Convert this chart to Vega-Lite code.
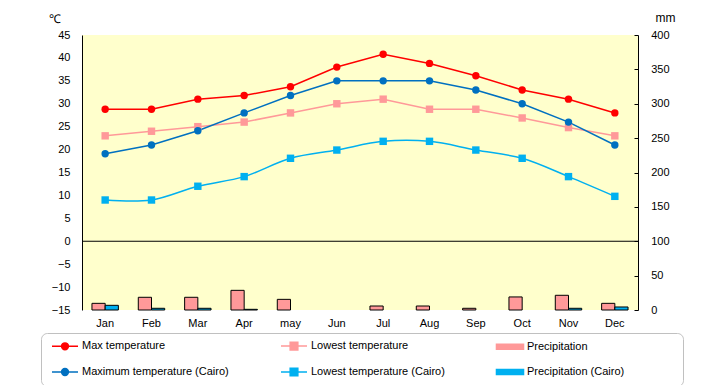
{
  "$schema": "https://vega.github.io/schema/vega-lite/v6.json",
  "width": 556,
  "height": 275,
  "autosize": {"type": "none"},
  "padding": {"left": 82, "top": 35, "right": 82, "bottom": 75},
  "background": "white",
  "config": {
    "view": {"fill": "#FFFFCC", "stroke": null},
    "font": "Liberation Sans",
    "axis": {"labelFont": "Liberation Sans", "labelFontSize": 11, "labelColor": "black", "grid": false, "titleFont": "Liberation Sans", "titleColor": "black", "titleFontWeight": "normal"}
  },
  "datasets": {
    "temp": [
      {"month": "Jan", "series": "Max temperature", "value": 28.8},
      {"month": "Feb", "series": "Max temperature", "value": 28.8},
      {"month": "Mar", "series": "Max temperature", "value": 31.0},
      {"month": "Apr", "series": "Max temperature", "value": 31.8},
      {"month": "may", "series": "Max temperature", "value": 33.7},
      {"month": "Jun", "series": "Max temperature", "value": 38.0},
      {"month": "Jul", "series": "Max temperature", "value": 40.8},
      {"month": "Aug", "series": "Max temperature", "value": 38.8},
      {"month": "Sep", "series": "Max temperature", "value": 36.1},
      {"month": "Oct", "series": "Max temperature", "value": 33.0},
      {"month": "Nov", "series": "Max temperature", "value": 31.0},
      {"month": "Dec", "series": "Max temperature", "value": 28.0},
      {"month": "Jan", "series": "Lowest temperature", "value": 23.0},
      {"month": "Feb", "series": "Lowest temperature", "value": 24.0},
      {"month": "Mar", "series": "Lowest temperature", "value": 25.0},
      {"month": "Apr", "series": "Lowest temperature", "value": 26.0},
      {"month": "may", "series": "Lowest temperature", "value": 28.0},
      {"month": "Jun", "series": "Lowest temperature", "value": 30.0},
      {"month": "Jul", "series": "Lowest temperature", "value": 31.0},
      {"month": "Aug", "series": "Lowest temperature", "value": 28.8},
      {"month": "Sep", "series": "Lowest temperature", "value": 28.8},
      {"month": "Oct", "series": "Lowest temperature", "value": 26.9},
      {"month": "Nov", "series": "Lowest temperature", "value": 24.8},
      {"month": "Dec", "series": "Lowest temperature", "value": 23.0},
      {"month": "Jan", "series": "Maximum temperature (Cairo)", "value": 19.1},
      {"month": "Feb", "series": "Maximum temperature (Cairo)", "value": 21.0},
      {"month": "Mar", "series": "Maximum temperature (Cairo)", "value": 24.1},
      {"month": "Apr", "series": "Maximum temperature (Cairo)", "value": 28.0},
      {"month": "may", "series": "Maximum temperature (Cairo)", "value": 31.8},
      {"month": "Jun", "series": "Maximum temperature (Cairo)", "value": 35.0},
      {"month": "Jul", "series": "Maximum temperature (Cairo)", "value": 35.0},
      {"month": "Aug", "series": "Maximum temperature (Cairo)", "value": 35.0},
      {"month": "Sep", "series": "Maximum temperature (Cairo)", "value": 33.0},
      {"month": "Oct", "series": "Maximum temperature (Cairo)", "value": 30.0},
      {"month": "Nov", "series": "Maximum temperature (Cairo)", "value": 26.0},
      {"month": "Dec", "series": "Maximum temperature (Cairo)", "value": 21.0},
      {"month": "Jan", "series": "Lowest temperature (Cairo)", "value": 9.0},
      {"month": "Feb", "series": "Lowest temperature (Cairo)", "value": 9.0},
      {"month": "Mar", "series": "Lowest temperature (Cairo)", "value": 12.0},
      {"month": "Apr", "series": "Lowest temperature (Cairo)", "value": 14.1},
      {"month": "may", "series": "Lowest temperature (Cairo)", "value": 18.1},
      {"month": "Jun", "series": "Lowest temperature (Cairo)", "value": 19.9},
      {"month": "Jul", "series": "Lowest temperature (Cairo)", "value": 21.8},
      {"month": "Aug", "series": "Lowest temperature (Cairo)", "value": 21.8},
      {"month": "Sep", "series": "Lowest temperature (Cairo)", "value": 19.9},
      {"month": "Oct", "series": "Lowest temperature (Cairo)", "value": 18.1},
      {"month": "Nov", "series": "Lowest temperature (Cairo)", "value": 14.1},
      {"month": "Dec", "series": "Lowest temperature (Cairo)", "value": 9.8}
    ],
    "precip": [
      {"month": "Jan", "series": "Precipitation", "value": 9.7},
      {"month": "Feb", "series": "Precipitation", "value": 18.5},
      {"month": "Mar", "series": "Precipitation", "value": 18.5},
      {"month": "Apr", "series": "Precipitation", "value": 28.6},
      {"month": "may", "series": "Precipitation", "value": 15.5},
      {"month": "Jul", "series": "Precipitation", "value": 5.8},
      {"month": "Aug", "series": "Precipitation", "value": 5.8},
      {"month": "Sep", "series": "Precipitation", "value": 2.5},
      {"month": "Oct", "series": "Precipitation", "value": 19.0},
      {"month": "Nov", "series": "Precipitation", "value": 21.4},
      {"month": "Dec", "series": "Precipitation", "value": 9.7},
      {"month": "Jan", "series": "Precipitation (Cairo)", "value": 6.8},
      {"month": "Feb", "series": "Precipitation (Cairo)", "value": 2.5},
      {"month": "Mar", "series": "Precipitation (Cairo)", "value": 2.5},
      {"month": "Apr", "series": "Precipitation (Cairo)", "value": 1.0},
      {"month": "Nov", "series": "Precipitation (Cairo)", "value": 2.5},
      {"month": "Dec", "series": "Precipitation (Cairo)", "value": 4.4}
    ],
    "zero": [{"v": 0}]
  },
  "layer": [
    {
      "data": {"name": "precip"},
      "mark": {"type": "bar", "stroke": "black", "strokeWidth": 1},
      "encoding": {
        "x": {"field": "month", "type": "ordinal", "sort": ["Jan","Feb","Mar","Apr","may","Jun","Jul","Aug","Sep","Oct","Nov","Dec"], "scale": {"paddingInner": 0.43, "paddingOuter": 0.215}, "axis": {"title": null, "ticks": false, "domain": false, "labelAngle": 0, "labelPadding": 7}},
        "xOffset": {"field": "series", "type": "nominal", "sort": ["Precipitation", "Precipitation (Cairo)"]},
        "y": {"field": "value", "type": "quantitative", "scale": {"domain": [0, 400], "nice": false}, "axis": {"orient": "right", "values": [0,50,100,150,200,250,300,350,400], "title": "mm", "titleAngle": 0, "titleX": 27, "titleY": -17.5, "titleAlign": "center", "titleBaseline": "middle", "titleFontSize": 12, "domainColor": "black", "tickColor": "black", "tickSize": -4, "labelPadding": 16.7}},
        "color": {"field": "series", "type": "nominal"}
      }
    },
    {
      "layer": [
        {
          "data": {"name": "zero"},
          "mark": {"type": "rule", "color": "black", "strokeWidth": 1.2},
          "encoding": {"y": {"field": "v", "type": "quantitative"}}
        },
        {
          "data": {"name": "temp"},
          "transform": [{"filter": "datum.series != 'Lowest temperature (Cairo)'"}],
          "mark": {"type": "line", "strokeWidth": 1.5},
          "encoding": {
            "x": {"field": "month", "type": "ordinal", "sort": ["Jan","Feb","Mar","Apr","may","Jun","Jul","Aug","Sep","Oct","Nov","Dec"]},
            "y": {"field": "value", "type": "quantitative"},
            "color": {
              "field": "series", "type": "nominal",
              "scale": {
                "domain": ["Max temperature", "Lowest temperature", "Precipitation", "Maximum temperature (Cairo)", "Lowest temperature (Cairo)", "Precipitation (Cairo)"],
                "range": ["#FF0000", "#FF9999", "#FF9999", "#0070C0", "#00B0F0", "#00B0F0"]
              },
              "legend": {
                "orient": "none", "legendX": -41, "legendY": 298, "columns": 3, "direction": "horizontal", "title": null,
                "gridAlign": "each",
                "padding": 7, "strokeColor": "#C0C0C0", "cornerRadius": 6, "fillColor": "white",
                "rowPadding": 12, "columnPadding": 48, "symbolSize": 110, "labelOffset": 11, "symbolOffset": 11,
                "labelFont": "Liberation Sans", "labelFontSize": 11, "labelColor": "black", "labelLimit": 400,
                "encode": {
                  "symbols": {
                    "update": {
                      "shape": {"signal": "datum.value == 'Precipitation (Cairo)' ? 'M-2.58,-0.48H2.58V0.48H-2.58ZM31,0' : indexof(datum.value,'Precip')>=0 ? 'M-2.58,-0.48H2.58V0.48H-2.58Z' : indexof(datum.value,'Lowest')>=0 ? 'M-2.48,0H2.48M-0.73,-0.73H0.73V0.73H-0.73Z' : 'M-2.48,0H2.48M0.65,0A0.65,0.65,0,1,1,-0.65,0A0.65,0.65,0,1,1,0.65,0Z'"},
                      "fill": {"signal": "scale('color', datum.value)"},
                      "stroke": {"signal": "indexof(datum.value,'Precip')>=0 ? 'black' : scale('color', datum.value)"},
                      "opacity": {"value": 1},
                      "fillOpacity": {"value": 1},
                      "strokeOpacity": {"value": 1}
                    }
                  }
                }
              }
            }
          }
        },
        {
          "data": {"name": "temp"},
          "transform": [{"filter": "datum.series == 'Lowest temperature (Cairo)'"}],
          "mark": {"type": "line", "interpolate": "catmull-rom", "strokeWidth": 1.5},
          "encoding": {
            "x": {"field": "month", "type": "ordinal", "sort": ["Jan","Feb","Mar","Apr","may","Jun","Jul","Aug","Sep","Oct","Nov","Dec"]},
            "y": {"field": "value", "type": "quantitative"},
            "color": {"field": "series", "type": "nominal"}
          }
        },
        {
          "data": {"name": "temp"},
          "mark": {"type": "point", "filled": true, "opacity": 1, "size": 55},
          "encoding": {
            "x": {"field": "month", "type": "ordinal", "sort": ["Jan","Feb","Mar","Apr","may","Jun","Jul","Aug","Sep","Oct","Nov","Dec"]},
            "y": {"field": "value", "type": "quantitative"},
            "color": {"field": "series", "type": "nominal"},
            "shape": {"field": "series", "type": "nominal", "scale": {"domain": ["Max temperature", "Lowest temperature", "Maximum temperature (Cairo)", "Lowest temperature (Cairo)"], "range": ["circle", "square", "circle", "square"]}, "legend": null}
          }
        }
      ],
      "encoding": {
        "y": {"scale": {"domain": [-15, 45], "nice": false}, "axis": {"orient": "left", "values": [-15,-10,-5,0,5,10,15,20,25,30,35,40,45], "title": "℃", "titleAngle": 0, "titleX": -27.5, "titleY": -17, "titleAlign": "center", "titleBaseline": "middle", "titleFontSize": 12, "ticks": false, "domainColor": "black", "labelPadding": 12}}
      }
    }
  ],
  "resolve": {"scale": {"y": "independent"}}
}
